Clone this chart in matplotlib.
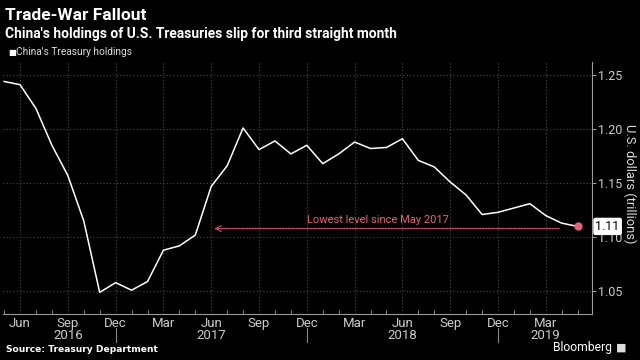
import matplotlib
matplotlib.use('Agg')
import matplotlib.pyplot as plt
import numpy as np

plt.rcParams['font.family'] = ['Roboto', 'DejaVu Sans']

# monthly holdings, May 2016 .. May 2019 (trillions of USD)
holdings = [1.244, 1.241, 1.219, 1.185, 1.157, 1.115, 1.049, 1.058, 1.051, 1.059,
            1.088, 1.092, 1.102, 1.147, 1.166, 1.201, 1.181, 1.189, 1.177, 1.185,
            1.168, 1.177, 1.188, 1.182, 1.183, 1.191, 1.171, 1.165, 1.151, 1.139,
            1.121, 1.123, 1.127, 1.131, 1.120, 1.113, 1.110]
month_labels = ['Jun', 'Sep', 'Dec', 'Mar', 'Jun', 'Sep', 'Dec', 'Mar', 'Jun', 'Sep', 'Dec', 'Mar']
label_months = [1, 4, 7, 10, 13, 16, 19, 22, 25, 28, 31, 34]
years = ['2016', '2017', '2018', '2019']
year_months = [4, 13, 25, 34]
year_breaks = [7, 19, 31]
y_ticks = [1.05, 1.10, 1.15, 1.20, 1.25]

x = np.arange(len(holdings))
bg = 'black'
grid_c = '#4a4a4a'
axis_c = '#9a9a9a'
pink = '#e8607a'

fig = plt.figure(figsize=(6.4, 3.6), dpi=100, facecolor=bg)
ax = fig.add_axes([3/640, 46/360, 589/640, 252/360], facecolor=bg)

ax.plot(x, holdings, color='white', lw=1.1, zorder=3)
ax.plot(x[-1], holdings[-1], 'o', color=pink, ms=5, zorder=4)

ax.set_xlim(-0.07, 36.9)
ax.set_ylim(1.029, 1.262)

ax.set_xticks(label_months)
ax.set_xticklabels(month_labels)
ax.set_xticks(x, minor=True)
ax.yaxis.tick_right()
ax.set_yticks(y_ticks)
ax.set_yticklabels(['%.2f' % v for v in y_ticks])

ax.tick_params(axis='x', which='major', length=0, colors='#cccccc', labelsize=9.5, pad=2)
ax.tick_params(axis='x', which='minor', direction='in', length=3, color=axis_c)
ax.tick_params(axis='y', length=3, color=axis_c, colors='#cccccc', labelsize=9, pad=1.5)

for s in ['top', 'left']:
    ax.spines[s].set_visible(False)
ax.spines['bottom'].set_color(axis_c)
ax.spines['right'].set_color(axis_c)

ax.grid(True, which='major', color=grid_c, ls=(0, (1, 2)), lw=0.8)

fig.text(630/640, 1 - 184/360, 'U.S. dollars (trillions)', color='#dddddd', fontsize=9.3,
         rotation=270, ha='center', va='center')

# year labels and separators
for m, yr in zip(year_months, years):
    ax.annotate(yr, xy=(m, 0), xycoords=('data', 'axes fraction'), xytext=(0, -11),
                textcoords='offset points', ha='center', va='top', color='#cccccc', fontsize=9.5)
for m in year_breaks:
    ax.plot([m, m], [-0.055, -0.11], transform=ax.get_xaxis_transform(), color='#888888',
            lw=0.8, clip_on=False)

# annotation arrow
ax.annotate('', xy=(13, 1.108), xytext=(35, 1.108),
            arrowprops=dict(arrowstyle='->', color='#c85070', lw=1.0, ls=(0, (1, 1))))
ax.text(19, 1.111, 'Lowest level since May 2017', color=pink, fontsize=8, ha='left', va='bottom')

# last value label
ax.annotate('%.2f' % holdings[-1], xy=(1.0, holdings[-1]), xycoords=('axes fraction', 'data'),
            xytext=(2.5, 0), textcoords='offset points', ha='left', va='center', fontsize=9,
            color='black', bbox=dict(boxstyle='round,pad=0.12', fc='white', ec='white'), zorder=5)

fig.text(5/640, 1 - 15/360, 'Trade-War Fallout', color='white', fontsize=12.5, fontweight='bold', va='center')
fig.text(5/640, 1 - 34/360, "China's holdings of U.S. Treasuries slip for third straight month",
         color='white', fontsize=9.9, fontweight='bold', va='center')
fig.text(8/640, 1 - 52/360, "\u25A0", color='white', fontsize=6, va='center', family='DejaVu Sans')
fig.text(16/640, 1 - 52/360, "China's Treasury holdings", color='#dddddd', fontsize=7.3, va='center')
fig.text(6/640, 1 - 349/360, 'Source: Treasury Department', color='white', fontsize=6.6,
         fontweight='bold', va='center', family='DejaVu Sans')
fig.text(612/640, 1 - 348/360, 'Bloomberg', color='white', fontsize=8.7, va='center', ha='right')
fig.text(621/640, 1 - 348/360, "\u25A0", color='#dddddd', fontsize=8, va='center', ha='center',
         family='DejaVu Sans')

fig.savefig('out.png', dpi=100, facecolor=bg)
